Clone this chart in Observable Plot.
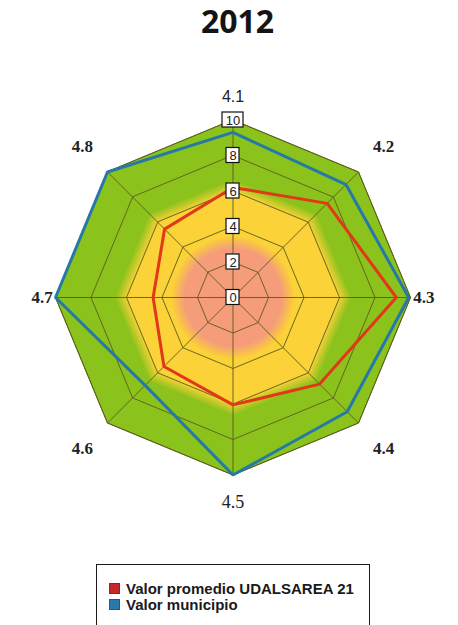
<!DOCTYPE html>
<html>
<head>
<meta charset="utf-8">
<script src="https://cdn.jsdelivr.net/npm/d3@7"></script>
<script src="https://cdn.jsdelivr.net/npm/@observablehq/plot@0.6"></script>
<style>
  body { margin: 0; background: #fff; }
  #wrap { position: relative; width: 458px; height: 625px; overflow: hidden; background: #fff; }
  #title { position: absolute; left: 0; top: -1px; width: 475px; height: 50px; line-height: 50px;
           text-align: center; font: bold 32px "Open Sans", "DejaVu Sans", sans-serif; color: #141414; }
  #chart { position: absolute; left: 0; top: 60px; }
  #legend { position: absolute; left: 96px; top: 564px; width: 272px; height: 90px;
            border: 1.5px solid #1a1a1a; background: #fff; }
  .item { position: absolute; left: 12px; height: 16px; font: bold 15px "Liberation Sans", Arial, sans-serif;
          color: #1a1a1a; line-height: 16px; white-space: nowrap; }
  .sw { display: inline-block; width: 9px; height: 9px; margin-right: 6px; vertical-align: 0px; }
</style>
</head>
<body>
<div id="wrap">
  <div id="title"></div>
  <div id="chart"></div>
  <div id="legend"></div>
</div>
<script>
// ---------- data ----------
const title = "2012";
const axisLabels = ["4.1", "4.2", "4.3", "4.4", "4.5", "4.6", "4.7", "4.8"];
const valorPromedio = [6.2, 7.5, 9.2, 6.9, 6.05, 5.5, 4.5, 5.45];   // Valor promedio UDALSAREA 21
const valorMunicipio = [9.3, 9.0, 9.9, 9.1, 10, 7.0, 10, 10];       // Valor municipio
const tickValues = [0, 2, 4, 6, 8, 10];
const ringValues = [2, 4, 6, 8, 10];
const bandLimits = [10, 6.3, 3.1];      // green, yellow, salmon zones
const seriesNames = ["Valor promedio UDALSAREA 21", "Valor municipio"];

// ---------- styles ----------
const bandColors = ["#8cc21c", "#fbd238", "#f59c7a"];
const seriesColors = ["#e2381a", "#2479a9"];
const legendColors = ["#c52a2a", "#2a78ad"];
const gridColor = "#5c5a1e";

// ---------- geometry ----------
const W = 458, H = 500;
const K = 17.75;                 // px per unit
const cx = 232.5, cy = 237;      // centre in svg pixels
const n = axisLabels.length;
const ang = i => i * 2 * Math.PI / n;
const pt = (r, i) => ({x: r * Math.sin(ang(i)), y: r * Math.cos(ang(i))});
const poly = (vals, key) => vals.map((v, i) => ({...pt(v, i), key}));
const ringPoly = r => d3.range(n).map(i => ({...pt(r, i), ring: r}));

const rings = ringValues.flatMap(r => ringPoly(r));
const spokes = axisLabels.map((a, i) => ({x2: pt(10, i).x, y2: pt(10, i).y}));

// soft edges between zones: a few blended steps around each limit
const mix = (a, b, t) => d3.interpolateRgb(a, b)(t);
const steps = [-0.3, -0.15, 0, 0.15, 0.3];
const softBands = [];
steps.forEach((s, k) => softBands.push({r: bandLimits[1] + steps[steps.length - 1 - k], color: mix(bandColors[0], bandColors[1], (k + 1) / steps.length)}));
const innerSteps = [];
steps.forEach((s, k) => innerSteps.push({r: bandLimits[2] + steps[steps.length - 1 - k], color: mix(bandColors[1], bandColors[2], (k + 1) / steps.length)}));

// label placement: vertical, horizontal, diagonal
const labelR = i => (i % 4 === 0 ? (i === 0 ? 11.3 : 11.55) : (i % 2 === 0 ? 10.75 : 12.0));
const labels = axisLabels.map((a, i) => ({...pt(labelR(i), i), label: a, i}));

// tick boxes
const boxH = 15 / K / 2;
const boxW = t => (String(t).length > 1 ? 21 : 13) / K / 2;

const bandMarks = [
  Plot.line(ringPoly(bandLimits[0]), {x: "x", y: "y", curve: "linear-closed", fill: bandColors[0], stroke: "#557d12", strokeWidth: 1}),
  ...softBands.map(b => Plot.line(ringPoly(b.r), {x: "x", y: "y", curve: "linear-closed", fill: b.color, stroke: b.color, strokeWidth: 0.5})),
  ...innerSteps.map(b => Plot.line(ringPoly(b.r), {x: "x", y: "y", curve: "catmull-rom-closed", fill: b.color, stroke: b.color, strokeWidth: 0.5}))
];

const plot = Plot.plot({
  width: W, height: H,
  marginTop: 0, marginBottom: 0, marginLeft: 0, marginRight: 0,
  x: {domain: [-cx / K, (W - cx) / K], axis: null},
  y: {domain: [(cy - H) / K, cy / K], axis: null},
  marks: [
    ...bandMarks,
    Plot.line(rings, {x: "x", y: "y", z: "ring", curve: "linear-closed", stroke: gridColor, strokeWidth: 0.9}),
    Plot.link(spokes, {x1: () => 0, y1: () => 0, x2: "x2", y2: "y2", stroke: gridColor, strokeWidth: 0.9}),
    Plot.line(poly(valorPromedio, "p"), {x: "x", y: "y", curve: "linear-closed", stroke: seriesColors[0], strokeWidth: 3, strokeLinejoin: "miter"}),
    Plot.line(poly(valorMunicipio, "m"), {x: "x", y: "y", curve: "linear-closed", stroke: seriesColors[1], strokeWidth: 3, strokeLinejoin: "miter"}),
    Plot.rect(tickValues, {x1: d => -boxW(d), x2: d => boxW(d), y1: d => d - boxH, y2: d => d + boxH, fill: "white", stroke: "#111", strokeWidth: 1.2}),
    Plot.text(tickValues, {x: () => 0, y: d => d, text: d => String(d), fontSize: 13, fontFamily: "Liberation Sans, Arial, sans-serif", fill: "#222", dy: 0.5}),
    Plot.text(labels.filter(d => d.i === 0), {x: "x", y: "y", text: "label", fontSize: 16, fontFamily: "Liberation Sans, Arial, sans-serif", fill: "#222"}),
    Plot.text(labels.filter(d => d.i === 4), {x: "x", y: "y", text: "label", fontSize: 18, fontFamily: "Liberation Serif, Times New Roman, serif", fill: "#222"}),
    Plot.text(labels.filter(d => d.i !== 0 && d.i !== 4), {x: "x", y: "y", text: "label", fontSize: 17, fontWeight: "bold", fontFamily: "Liberation Serif, Times New Roman, serif", fill: "#222"})
  ]
});

document.getElementById("chart").appendChild(plot);
document.getElementById("title").textContent = title;

const legend = d3.select("#legend");
seriesNames.forEach((name, i) => {
  const it = legend.append("div").attr("class", "item").style("top", (16 + i * 16) + "px");
  it.append("span").attr("class", "sw")
    .style("background", legendColors[i])
    .style("border", "1px solid " + d3.color(legendColors[i]).darker(0.8));
  it.append("span").text(name);
});
</script>
</body>
</html>
